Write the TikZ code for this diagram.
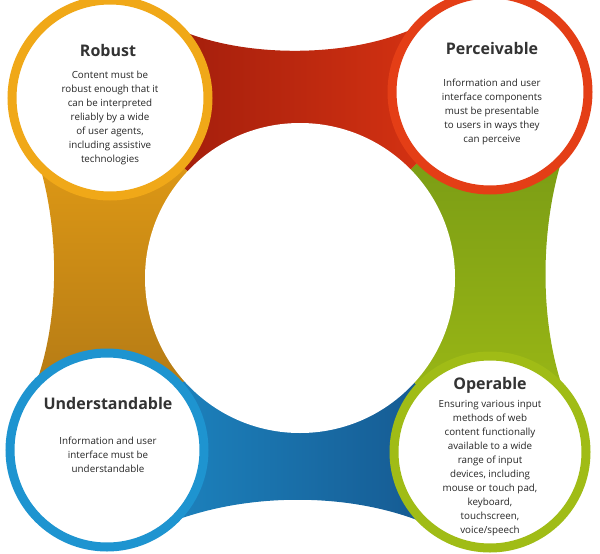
\documentclass[tikz,border=0pt]{standalone}
\usepackage{fontspec}
\setmainfont{Open Sans}
\begin{document}
\begin{tikzpicture}[x=1pt,y=-1pt,
  ttl/.style={font=\fontsize{16}{18}\selectfont\bfseries,text=black!80},
  bdy/.style={font=\fontsize{9.8}{14}\selectfont,align=center,text=black!85},
  ring/.style={fill=white,line width=9pt}]
\definecolor{cOr}{RGB}{240,168,24}
\definecolor{cRe}{RGB}{228,62,22}
\definecolor{cBl}{RGB}{30,148,208}
\definecolor{cGr}{RGB}{160,188,22}
\useasboundingbox (0,0) rectangle (600,554);
\coordinate (R) at (110,98);
\coordinate (P) at (490,92);
\coordinate (U) at (107,450);
\coordinate (O) at (490,452);
\coordinate (C) at (300,278);
% bands
\shade[left color={rgb,255:red,150;green,25;blue,10}, right color={rgb,255:red,225;green,55;blue,20}]
  (R) -- (160,20) .. controls (230,62) and (370,62) .. (440,14) -- (P) -- (C) -- cycle;
\shade[top color={rgb,255:red,232;green,160;blue,22}, bottom color={rgb,255:red,170;green,115;blue,20}]
  (R) -- (32,143) .. controls (62,220) and (62,330) .. (29,400) -- (U) -- (C) -- cycle;
\shade[left color={rgb,255:red,30;green,140;blue,200}, right color={rgb,255:red,20;green,80;blue,135}]
  (U) -- (157,528) .. controls (240,490) and (360,490) .. (440,530) -- (O) -- (C) -- cycle;
\shade[top color={rgb,255:red,115;green,150;blue,20}, bottom color={rgb,255:red,160;green,188;blue,22}]
  (P) -- (568,142) .. controls (538,220) and (538,330) .. (568,402) -- (O) -- (C) -- cycle;
\fill[white] (C) circle (155);
% circles
\draw[ring,draw=cOr] (R) circle (98);
\draw[ring,draw=cRe] (P) circle (98);
\draw[ring,draw=cBl] (U) circle (97);
\draw[ring,draw=cGr] (O) circle (96);
% text
\node[ttl] (rt) at (108,50) {Robust};
\node[bdy] (rb) at (110,118) {Content must be\\robust enough that it\\can be interpreted\\reliably by a wide\\of user agents,\\including assistive\\technologies};
\node[ttl] (pt) at (492,48) {Perceivable};
\node[bdy] (pb) at (492,112) {Information and user\\interface components\\must be presentable\\to users in ways they\\can perceive};
\node[ttl] (ut) at (108,403) {Understandable};
\node[bdy] (ub) at (108,455) {Information and user\\interface must be\\understandable};
\node[ttl] (ot) at (490,385) {Operable};
\node[bdy] (ob) at (490,468) {Ensuring various input\\methods of web\\content functionally\\available to a wide\\range of input\\devices, including\\mouse or touch pad,\\keyboard,\\touchscreen,\\voice/speech};
\end{tikzpicture}
\end{document}
